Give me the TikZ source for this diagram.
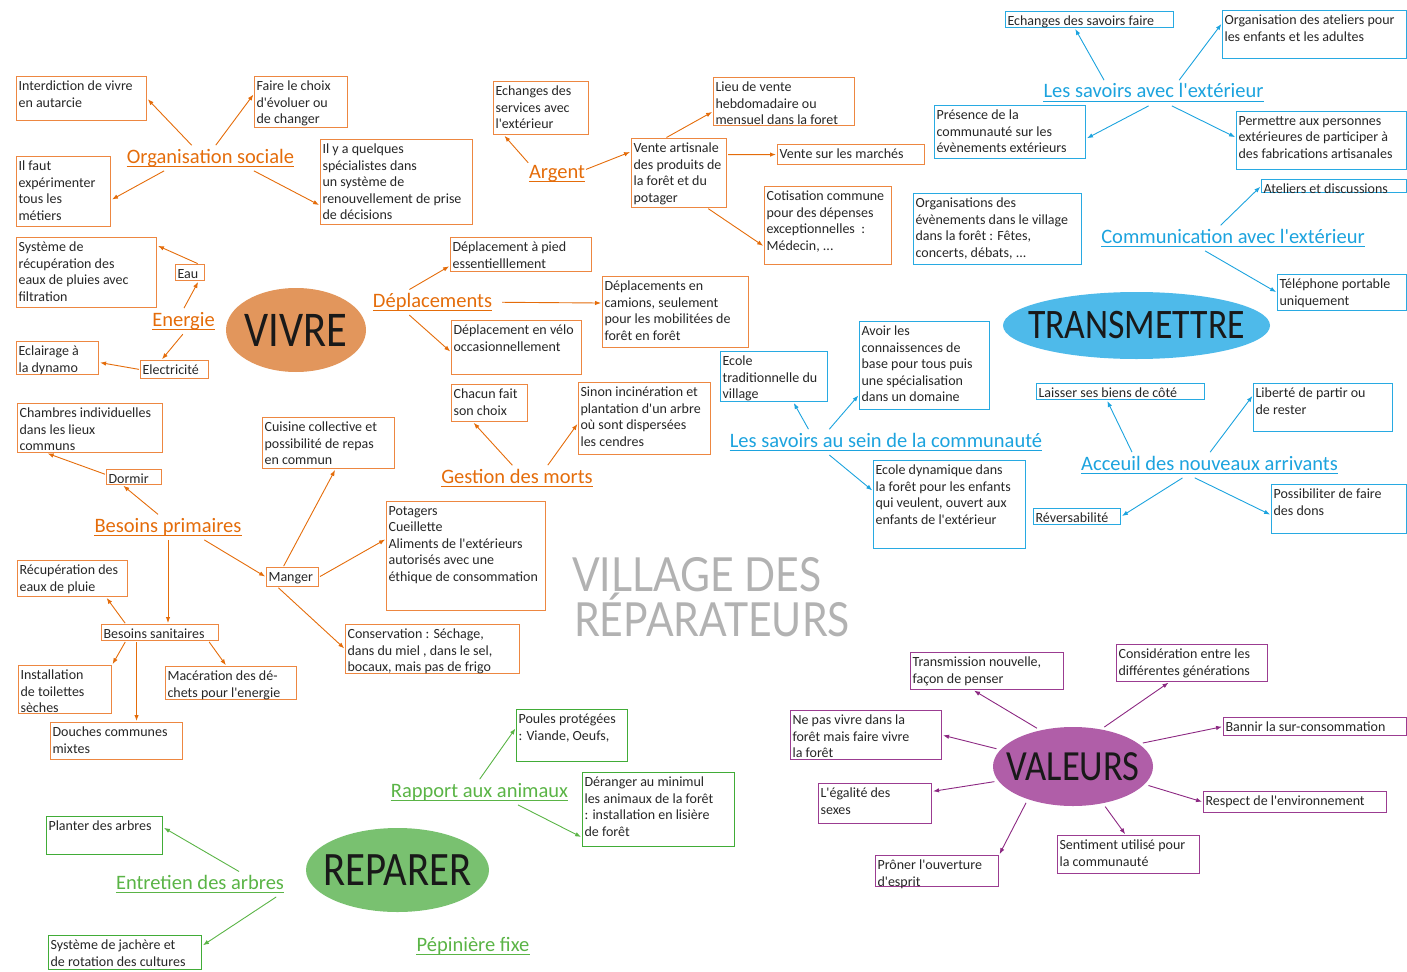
\documentclass[tikz,border=0pt]{standalone}
\usepackage{fontspec}
\usetikzlibrary{arrows.meta,shapes.geometric}

\newfontfamily\boxfamily{Carlito}
\newfontfamily\hubfamily[FakeStretch=0.85]{Carlito}
\newfontfamily\titlefamily[FakeStretch=0.87]{Lato}

% Colours of the four branches
\definecolor{otext}{RGB}{228,108,10}
\definecolor{oline}{RGB}{237,135,65}
\definecolor{ofill}{RGB}{226,150,92}
\definecolor{btext}{RGB}{28,163,222}
\definecolor{bline}{RGB}{40,170,226}
\definecolor{bfill}{RGB}{78,186,234}
\definecolor{ptext}{RGB}{140,40,130}
\definecolor{pline}{RGB}{155,60,145}
\definecolor{pfill}{RGB}{176,94,168}
\definecolor{gtext}{RGB}{90,180,70}
\definecolor{gline}{RGB}{65,172,55}
\definecolor{gfill}{RGB}{121,193,112}

\tikzset{
	txtbox/.style 2 args = {anchor = north west, inner sep = 0pt, line width = 1.1pt,
		text = black!85, font = \boxfamily\fontsize{14}{16.5}\selectfont,
		minimum width = #1, minimum height = #2,
		execute at begin node = {\begin{minipage}[t][\dimexpr#2pt-6pt\relax][t]{\dimexpr#1pt-4pt\relax}\vspace*{1.5pt}\raggedright},
		execute at end node = {\end{minipage}}},
	obox/.style 2 args = {txtbox = {#1}{#2}, draw = oline},
	bbox/.style 2 args = {txtbox = {#1}{#2}, draw = bline},
	pbox/.style 2 args = {txtbox = {#1}{#2}, draw = pline},
	gbox/.style 2 args = {txtbox = {#1}{#2}, draw = gline},
	branch/.style = {anchor = base, inner sep = 0pt, font = \boxfamily\fontsize{20.5}{24}\selectfont, execute at begin node = \strut},
	hubtext/.style = {inner sep = 0pt, text = black!90, font = \hubfamily\fontsize{#1}{#1}\selectfont},
	hub/.style 2 args = {ellipse, inner sep = 0pt, label = {[hubtext = #1]center:#2}},
	heading/.style = {anchor = base west, inner sep = 0pt, text = black!30, font = \titlefamily\fontsize{47}{47}\selectfont},
	arr/.style = {-{Latex[length = 6pt, width = 4.5pt]}, line width = 0.9pt, shorten <= 1pt, shorten >= 1pt},
	oarr/.style = {arr, draw = otext},
	barr/.style = {arr, draw = btext},
	parr/.style = {arr, draw = ptext, shorten <= 4pt},
	garr/.style = {arr, draw = gtext}
}

\begin{document}
\begin{tikzpicture}[x = 1pt, y = -1pt]

	\useasboundingbox (0, 0) rectangle (1407, 971);

	% Title

	\node[heading] (titletop) at (572, 591) {VILLAGE DES};
	\node[heading] (titlebot) at (574, 636) {RÉPARATEURS};

	% VIVRE

	\node[hub = {50}{VIVRE}, fill = ofill, minimum width = 140, minimum height = 84] (vivre) at (296, 330) {};

	\node[branch, text = otext] (orgsoc) at (210.5, 163) {Organisation sociale};
	\node[branch, text = otext] (argent) at (557, 178) {Argent};
	\node[branch, text = otext] (energie) at (183.5, 326) {Energie};
	\node[branch, text = otext] (deplac) at (432.5, 307) {Déplacements};
	\node[branch, text = otext] (gestion) at (517, 483) {Gestion des morts~};
	\node[branch, text = otext] (besprim) at (168, 532) {Besoins primaires};

	\node[obox = {130}{44}] (interd) at (16, 76) {Interdiction de vivre\\en autarcie};
	\node[obox = {93}{51}] (choix) at (254, 76) {Faire le choix\\d'évoluer ou\\de changer};
	\node[obox = {94}{70}] (ilfaut) at (16, 156) {Il faut\\expérimenter\\tous les\\métiers};
	\node[obox = {152}{85}] (quelq) at (320, 139) {Il y a quelques\\spécialistes dans\\un système de\\renouvellement de prise\\de décisions};

	\node[obox = {95}{53}] (echserv) at (493, 81) {Echanges des\\services avec\\l'extérieur};
	\node[obox = {95}{69}] (vente) at (631, 138) {Vente artisnale\\des produits de\\la forêt et du\\potager};
	\node[obox = {141}{48}] (lieu) at (713, 77) {Lieu de vente\\hebdomadaire ou\\mensuel dans la foret};
	\node[obox = {147}{20}] (marches) at (777, 144) {Vente sur les marchés};
	\node[obox = {127}{78}] (cotis) at (764, 186) {Cotisation commune\\pour des dépenses\\exceptionnelles~~:\\Médecin, ...};

	\node[obox = {29}{16}] (eau) at (175, 264) {Eau};
	\node[obox = {140}{70}] (recup) at (16, 237) {Système de\\récupération des\\eaux de pluies avec\\filtration};
	\node[obox = {82}{33}] (eclair) at (16, 341) {Eclairage à\\la dynamo};
	\node[obox = {68}{18}] (elec) at (140, 360) {Electricité};

	\node[obox = {141}{34}] (pied) at (450, 237) {Déplacement à pied\\essentielllement};
	\node[obox = {146}{71}] (camions) at (602, 276) {Déplacements en\\camions, seulement\\pour les mobilitées de\\forêt en forêt};
	\node[obox = {130}{54}] (velo) at (451, 320) {Déplacement en vélo\\occasionnellement};

	\node[obox = {76}{37}] (chacun) at (451, 384) {Chacun fait\\son choix};
	\node[obox = {132}{72}] (sinon) at (578, 382) {Sinon incinération et\\plantation d'un arbre\\où sont dispersées\\les cendres};

	\node[obox = {55}{15}] (dormir) at (106, 469) {Dormir};
	\node[obox = {145}{49}] (chambres) at (17, 403) {Chambres individuelles\\dans les lieux\\communs};
	\node[obox = {52}{19}] (manger) at (266, 567) {Manger};
	\node[obox = {132}{51}] (cuisine) at (262, 417) {Cuisine collective et\\possibilité de repas\\en commun};
	\node[obox = {159}{109}] (potagers) at (386, 501) {Potagers\\Cueillette\\Aliments de l'extérieurs\\autorisés avec une\\éthique de consommation};
	\node[obox = {174}{49}] (conserv) at (345, 624) {Conservation : Séchage,\\dans du miel , dans le sel,\\bocaux, mais pas de frigo};
	\node[obox = {117}{16}] (sanit) at (101, 624) {Besoins sanitaires};
	\node[obox = {110}{36}] (recpluie) at (17, 560) {Récupération des\\eaux de pluie};
	\node[obox = {93}{48}] (toilettes) at (18, 665) {Installation\\de toilettes\\sèches};
	\node[obox = {131}{33}] (macer) at (165, 666) {Macération des dé-\\chets pour l'energie};
	\node[obox = {132}{37}] (douches) at (50, 722) {Douches communes\\mixtes};

	\draw[oarr] (orgsoc.146) -- (interd.east);
	\draw[oarr] (orgsoc.69) -- (choix.170);
	\draw[oarr] (orgsoc.195) -- (ilfaut.350);
	\draw[oarr] (orgsoc.344) -- (quelq.197);
	\draw[oarr] (argent.161) -- (echserv.216);
	\draw[oarr] (argent.7) -- (vente.156);
	\draw[oarr] (vente.111) -- (lieu.188);
	\draw[oarr] (vente.21) -- (marches.west);
	\draw[oarr] (vente.309) -- (cotis.198);
	\draw[oarr] (energie.north) -- (eau.315);
	\draw[oarr] (eau.45) -- (recup.21);
	\draw[oarr] (energie.south) -- (elec.144);
	\draw[oarr] (elec.west) -- (eclair.354);
	\draw[oarr] (deplac.153) -- (pied.189);
	\draw[oarr, shorten <= 10pt] (deplac.east) -- (camions.173);
	\draw[oarr] (deplac.207) -- (velo.184);
	\draw[oarr] (gestion.108) -- (chacun.229);
	\draw[oarr] (gestion.22) -- (sinon.184);
	\draw[oarr] (besprim.127) -- (dormir.215);
	\draw[oarr] (dormir.175) -- (chambres.210);
	\draw[oarr] (besprim.341) -- (manger.west);
	\draw[oarr] (besprim.south) -- (besprim.south |- sanit.north);
	\draw[oarr] (manger.133) -- (cuisine.285);
	\draw[oarr] (manger.east) -- (potagers.168);
	\draw[oarr] (manger.214) -- (conserv.west);
	\draw[oarr] (sanit.166) -- (recpluie.331);
	\draw[oarr] (sanit.194) -- (toilettes.north east);
	\draw[oarr] (sanit.350) -- (macer.105);
	\draw[oarr] (sanit.200) -- (sanit.200 |- douches.north);

	% TRANSMETTRE

	\node[hub = {42}{TRANSMETTRE}, fill = bfill, minimum width = 267, minimum height = 67] (transm) at (1136.5, 325.5) {};

	\node[branch, text = btext] (savext) at (1153.5, 98) {Les savoirs avec l'extérieur};
	\node[branch, text = btext] (comm) at (1233, 243) {Communication avec l'extérieur};
	\node[branch, text = btext] (savcom) at (886, 447) {Les savoirs au sein de la communauté};
	\node[branch, text = btext] (acceuil) at (1209.5, 470) {Acceuil des nouveaux arrivants};

	\node[bbox = {168}{16}] (echsav) at (1005, 11) {Echanges des savoirs faire};
	\node[bbox = {184}{48}] (ateliers) at (1222, 10) {Organisation des ateliers pour\\les enfants et les adultes};
	\node[bbox = {151}{53}] (presence) at (934, 105) {Présence de la\\communauté sur les\\évènements extérieurs};
	\node[bbox = {170}{58}] (permettre) at (1236, 111) {Permettre aux personnes\\extérieures de participer à\\des fabrications artisanales};
	\node[bbox = {145}{13}] (atdisc) at (1261, 179) {Ateliers et discussions};
	\node[bbox = {129}{36}] (telephone) at (1277, 274) {Téléphone portable\\uniquement};
	\node[bbox = {168}{71}] (orgevt) at (913, 193) {Organisations des\\évènements dans le village\\dans la forêt : Fêtes,\\concerts, débats, ...};
	\node[bbox = {107}{50}] (ecoletrad) at (720, 351) {Ecole\\traditionnelle du\\village};
	\node[bbox = {130}{88}] (avoir) at (859, 321) {Avoir les\\connaissences de\\base pour tous puis\\une spécialisation\\dans un domaine};
	\node[bbox = {152}{88}] (ecoledyn) at (873, 460) {Ecole dynamique dans\\la forêt pour les enfants\\qui veulent, ouvert aux\\enfants de l'extérieur};
	\node[bbox = {168}{16}] (laisser) at (1036, 383) {Laisser ses biens de côté};
	\node[bbox = {139}{48}] (liberte) at (1253, 383) {Liberté de partir ou\\de rester};
	\node[bbox = {87}{16}] (revers) at (1033, 508) {Réversabilité};
	\node[bbox = {135}{49}] (dons) at (1271, 484) {Possibiliter de faire\\des dons};

	\draw[barr] (savext.166) -- (echsav.210);
	\draw[barr] (savext.26) -- (ateliers.173);
	\draw[barr] (savext.252) -- (presence.355);
	\draw[barr] (savext.325) -- (permettre.178);
	\draw[barr] (comm.137) -- (atdisc.west);
	\draw[barr] (comm.203) -- (telephone.west);
	\draw[barr] (savcom.171) -- (ecoletrad.307);
	\draw[barr] (savcom.168) -- (avoir.204);
	\draw[barr] (savcom.192) -- (ecoledyn.170);
	\draw[barr] (acceuil.171) -- (laisser.212);
	\draw[barr] (acceuil.north) -- (liberte.170);
	\draw[barr] (acceuil.205) -- (revers.east);
	\draw[barr] (acceuil.218) -- (dons.185);

	% VALEURS

	\node[hub = {43}{VALEURS}, fill = pfill, minimum width = 160, minimum height = 79] (valeurs) at (1073, 766.5) {};

	\node[pbox = {153}{37}] (tnouv) at (910, 652) {Transmission nouvelle,\\façon de penser};
	\node[pbox = {151}{37}] (consid) at (1116, 644) {Considération entre les\\différentes générations};
	\node[pbox = {151}{49}] (nepas) at (790, 710) {Ne pas vivre dans la\\forêt mais faire vivre\\la forêt};
	\node[pbox = {183}{18}] (bannir) at (1223, 717) {Bannir la sur-consommation};
	\node[pbox = {113}{40}] (egal) at (818, 783) {L'égalité des\\sexes};
	\node[pbox = {183}{21}] (respect) at (1203, 791) {Respect de l'environnement};
	\node[pbox = {123}{31}] (proner) at (875, 855) {Prôner l'ouverture\\d'esprit};
	\node[pbox = {142}{38}] (sentim) at (1057, 835) {Sentiment utilisé pour\\la communauté};

	\draw[parr] (valeurs.132) -- (tnouv.234);
	\draw[parr] (valeurs.53) -- (consid.220);
	\draw[parr] (valeurs.167) -- (nepas.east);
	\draw[parr] (valeurs.19) -- (bannir.west);
	\draw[parr] (valeurs.191) -- (egal.12);
	\draw[parr] (valeurs.346) -- (respect.west);
	\draw[parr] (valeurs.216) -- (proner.north east);
	\draw[parr] (valeurs.309) -- (sentim.98);

	% REPARER

	\node[hub = {48}{REPARER}, fill = gfill, minimum width = 183, minimum height = 84] (reparer) at (397.5, 870) {};

	\node[branch, text = gtext] (rapport) at (479.5, 797) {Rapport aux animaux};
	\node[branch, text = gtext] (entretien) at (200, 889) {Entretien des arbres};
	\node[branch, text = gtext] (pepin) at (473, 951) {Pépinière fixe~};

	\node[gbox = {111}{52}] (poules) at (516, 709) {Poules protégées\\: Viande, Oeufs,};
	\node[gbox = {152}{74}] (deranger) at (582, 772) {Déranger au minimul\\les animaux de la forêt\\: installation en lisière\\de forêt};
	\node[gbox = {116}{38}] (planter) at (46, 816) {Planter des arbres};
	\node[gbox = {153}{34}] (jachere) at (48, 935) {Système de jachère et\\de rotation des cultures};

	\draw[garr] (rapport.92) -- (poules.172);
	\draw[garr] (rapport.342) -- (deranger.200);
	\draw[garr] (entretien.17) -- (planter.8);
	\draw[garr] (entretien.351) -- (jachere.5);

	% Underlines of the branch labels

	\foreach \n/\col in {orgsoc/otext, argent/otext, energie/otext, deplac/otext, gestion/otext, besprim/otext,
		savext/btext, comm/btext, savcom/btext, acceuil/btext, rapport/gtext, entretien/gtext, pepin/gtext}
		\draw[\col, line width = 0.8pt] ([yshift = -3.5pt]\n.base west) -- ([yshift = -3.5pt]\n.base east);

\end{tikzpicture}
\end{document}
